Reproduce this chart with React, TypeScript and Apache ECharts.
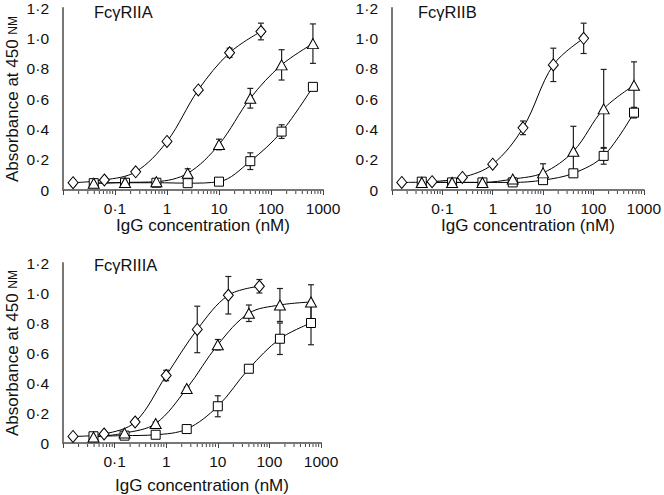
import React, { useEffect, useRef } from "react";
import * as echarts from "echarts";

// concentrations (nM)
const concDiamond = [0.015625, 0.0625, 0.25, 1, 4, 16, 64];
const concTriSq = [0.039, 0.156, 0.625, 2.5, 10, 40, 160, 640];

// Panel FcγRIIA
const a_diamond = [0.048, 0.066, 0.12, 0.32, 0.66, 0.905, 1.045];
const a_diamondErr = [0.02, 0.01, 0.01, 0.01, 0.01, 0.03, 0.055];
const a_tri = [0.044, 0.05, 0.055, 0.11, 0.3, 0.605, 0.825, 0.965];
const a_triErr = [0.01, 0.01, 0.01, 0.03, 0.035, 0.065, 0.1, 0.13];
const a_sq = [0.045, 0.048, 0.048, 0.045, 0.055, 0.19, 0.385, 0.68];
const a_sqErr = [0, 0, 0, 0, 0.005, 0.055, 0.045, 0.01];

// Panel FcγRIIB
const b_diamond = [0.05, 0.055, 0.083, 0.17, 0.41, 0.825, 1.0];
const b_diamondErr = [0, 0, 0.01, 0.01, 0.045, 0.11, 0.1];
const b_tri = [0.05, 0.05, 0.05, 0.072, 0.113, 0.255, 0.535, 0.69];
const b_triErr = [0, 0, 0, 0.01, 0.06, 0.165, 0.26, 0.155];
const b_sq = [0.055, 0.05, 0.05, 0.05, 0.065, 0.11, 0.225, 0.51];
const b_sqErr = [0, 0, 0, 0, 0.01, 0.02, 0.055, 0.035];

// Panel FcγRIIIA
const c_diamond = [0.044, 0.06, 0.14, 0.45, 0.757, 0.985, 1.045];
const c_diamondErr = [0, 0, 0, 0.035, 0.155, 0.125, 0.045];
const c_tri = [0.04, 0.066, 0.13, 0.363, 0.655, 0.865, 0.92, 0.94];
const c_triErr = [0.01, 0, 0.01, 0.01, 0.035, 0.055, 0.11, 0.115];
const c_sq = [0.045, 0.049, 0.055, 0.093, 0.245, 0.495, 0.695, 0.8];
const c_sqErr = [0, 0, 0, 0, 0.07, 0.01, 0.105, 0.145];

const titles = ["FcγRIIA", "FcγRIIB", "FcγRIIIA"];
const xName = "IgG concentration (nM)";
const xDecades = [0.01, 0.1, 1, 10, 100];

const FONT = "Liberation Sans";

const minorTickValues: number[] = [];
xDecades.forEach((d) => {
  for (let k = 2; k <= 9; k++) minorTickValues.push(d * k);
});

function pairs(xs: number[], ys: number[]) {
  return xs.map((x, i) => [x, ys[i]]);
}
function errs(xs: number[], ys: number[], es: number[]) {
  return xs
    .map((x, i) => [x, ys[i] - es[i], ys[i] + es[i], es[i]])
    .filter((d) => d[3] > 0.004);
}

const errRender = (params: any, api: any) => {
  const x = api.value(0);
  const lo = api.coord([x, api.value(1)]);
  const hi = api.coord([x, api.value(2)]);
  const w = 3;
  const st = { stroke: "#222", lineWidth: 1.2 };
  return {
    type: "group",
    children: [
      { type: "line", shape: { x1: lo[0], y1: lo[1], x2: hi[0], y2: hi[1] }, style: st },
      { type: "line", shape: { x1: lo[0] - w, y1: lo[1], x2: lo[0] + w, y2: lo[1] }, style: st },
      { type: "line", shape: { x1: hi[0] - w, y1: hi[1], x2: hi[0] + w, y2: hi[1] }, style: st },
    ],
  };
};

const minorRender = (params: any, api: any) => {
  const p = api.coord([api.value(0), 0]);
  return {
    type: "line",
    shape: { x1: p[0], y1: p[1] + 1, x2: p[0], y2: p[1] + 4 },
    style: { stroke: "#444", lineWidth: 1 },
  };
};

export default function App() {
  const ref = useRef<HTMLDivElement>(null);
  useEffect(() => {
    document.body.style.margin = "0";
    const chart = echarts.init(ref.current!, null, { renderer: "svg" });
    const grids = [
      { left: 63, top: 8, width: 260, height: 182 },
      { left: 392, top: 7, width: 258, height: 183 },
      { left: 63, top: 263, width: 258, height: 181 },
    ];
    const xGaps = [20, 23, 34];
    const panels = [
      [a_diamond, a_diamondErr, a_tri, a_triErr, a_sq, a_sqErr],
      [b_diamond, b_diamondErr, b_tri, b_triErr, b_sq, b_sqErr],
      [c_diamond, c_diamondErr, c_tri, c_triErr, c_sq, c_sqErr],
    ];
    const xAxis = grids.map((g, i) => ({
      type: "log",
      logBase: 10,
      gridIndex: i,
      min: 0.01,
      max: 1000,
      name: xName,
      nameLocation: "middle",
      nameGap: xGaps[i],
      nameTextStyle: { fontFamily: FONT, fontSize: 17, color: "#111", padding: [0, 0, 0, 20] },
      axisLine: { lineStyle: { color: "#777", width: 2 } },
      axisTick: { show: true, length: 5, lineStyle: { color: "#444", width: 1 } },
      axisLabel: {
        fontFamily: FONT,
        fontSize: 15.5,
        color: "#111",
        margin: 10,
        formatter: (v: number) => {
          const e = Math.round(Math.log10(v));
          if (e <= -2) return "";
          if (e === -1) return "0·1";
          return String(Math.pow(10, e));
        },
      },
      splitLine: { show: false },
    }));
    const yAxis = grids.map((g, i) => ({
      type: "value",
      gridIndex: i,
      min: 0,
      max: 1.2,
      interval: 0.2,
      name: i === 1 ? "" : "Absorbance at 450 {sc|NM}",
      nameLocation: "middle",
      nameGap: 42,
      nameTextStyle: {
        fontFamily: FONT,
        fontSize: 17,
        color: "#111",
        rich: { sc: { fontFamily: FONT, fontSize: 12, color: "#111" } },
      },
      axisLine: { show: true, lineStyle: { color: "#777", width: 2 } },
      axisTick: { show: false },
      axisLabel: {
        fontFamily: FONT,
        fontSize: 15.5,
        color: "#111",
        margin: 14,
        formatter: (v: number) => (v === 0 ? "0" : v.toFixed(1).replace(".", "·")),
      },
      splitLine: { show: false },
    }));
    const series: any[] = [];
    panels.forEach((p, i) => {
      const [dv, de, tv, te, sv, se] = p as number[][];
      const mk = (data: number[][], symbol: string, size: any) => ({
        type: "line",
        xAxisIndex: i,
        yAxisIndex: i,
        data,
        smooth: 0.35,
        symbol,
        symbolSize: size,
        showAllSymbol: true,
        lineStyle: { color: "#000", width: 1 },
        itemStyle: { color: "#fff", borderColor: "#000", borderWidth: 1 },
        z: 5,
      });
      const eb = (data: number[][]) => ({
        type: "custom",
        xAxisIndex: i,
        yAxisIndex: i,
        data,
        renderItem: errRender,
        clip: false,
        silent: true,
        z: 3,
      });
      series.push(eb(errs(concDiamond, dv, de)));
      series.push(eb(errs(concTriSq, tv, te)));
      series.push(eb(errs(concTriSq, sv, se)));
      series.push(mk(pairs(concTriSq, sv), "rect", 9));
      series.push(mk(pairs(concTriSq, tv), "triangle", [11, 10]));
      series.push(mk(pairs(concDiamond, dv), "diamond", [10, 12]));
      series.push({
        type: "custom",
        xAxisIndex: i,
        yAxisIndex: i,
        data: minorTickValues.map((v) => [v, 0]),
        renderItem: minorRender,
        clip: false,
        silent: true,
        z: 2,
      });
    });
    chart.setOption({
      animation: false,
      backgroundColor: "#fff",
      title: [
        { text: titles[0], left: 94, top: 3 },
        { text: titles[1], left: 418, top: 3 },
        { text: titles[2], left: 94, top: 256 },
      ].map((t) => ({
        ...t,
        padding: 0,
        textStyle: { fontFamily: FONT, fontSize: 16.5, fontWeight: "normal", color: "#111" },
      })),
      grid: grids,
      xAxis,
      yAxis,
      series,
    });
    return () => chart.dispose();
  }, []);
  return <div ref={ref} style={{ width: 664, height: 495 }} />;
}
